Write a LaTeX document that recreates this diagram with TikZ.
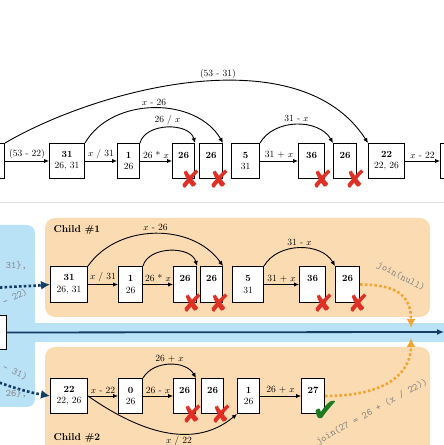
\documentclass[tikz,border=0pt]{standalone}
\usepackage{fontspec}
\newfontfamily\marksfont{DejaVu Sans}
\usetikzlibrary{arrows.meta}

\definecolor{bluebg}{RGB}{186,226,247}
\definecolor{orangebg}{RGB}{251,220,178}
\definecolor{navy}{RGB}{18,60,100}
\definecolor{joinorange}{RGB}{240,166,52}
\definecolor{crossred}{RGB}{222,48,36}
\definecolor{checkgreen}{RGB}{28,122,32}

\tikzset{
    cell/.style={draw, line width=1pt, fill=white, anchor=north west, minimum height=35pt,
        inner xsep=3.5pt, align=center, font=\fontsize{9.5pt}{11.5pt}\selectfont},
    arr/.style={-{Latex[length=5pt,width=4.5pt]}, line width=0.9pt},
    lbl/.style={font=\fontsize{9.5pt}{11pt}\selectfont, inner sep=2pt},
    forkarr/.style={-{Latex[length=9pt,width=9pt]}, navy, line width=2.6pt, dash pattern=on 2.6pt off 2.2pt},
    joinarr/.style={-{Latex[length=9pt,width=9pt]}, joinorange, line width=2.6pt, dash pattern=on 2.6pt off 2.2pt},
    codelbl/.style={font=\ttfamily, text=gray, inner sep=1pt},
    crossmark/.style={text=crossred, font={\marksfont\fontsize{25pt}{25pt}\selectfont}, inner sep=0pt},
    checkmark/.style={text=checkgreen, font={\marksfont\fontsize{32pt}{32pt}\selectfont}, inner sep=0pt},
}

\begin{document}
\begin{tikzpicture}[x=1pt, y=1pt]
    \useasboundingbox (0,0) rectangle (444,445);
    \clip (0,0) rectangle (444,445);

    % backgrounds
    \draw [gray!30, line width=1pt] (0,242) -- (444,242);
    \fill [bluebg] (-10,103) rectangle (454,122);
    \fill [bluebg, rounded corners=8pt] (-20,38) rectangle (35,220);
    \fill [orangebg, rounded corners=10pt] (45,128) rectangle (430,227);
    \fill [orangebg, rounded corners=10pt] (45,-20) rectangle (430,98);

    % parent list
    \node (a0) at (-40,302) [cell, minimum width=44pt] {};
    \node (a1) at (49,302) [cell, minimum width=35pt] {\textbf{31}\\26, 31};
    \node (a2) at (117,302) [cell, minimum width=22pt] {\textbf{1}\\26};
    \node (a3) at (172,302) [cell, minimum width=22pt] {\textbf{26}\\\phantom{0}};
    \node (a4) at (199,302) [cell, minimum width=23pt] {\textbf{26}\\\phantom{0}};
    \node (a5) at (231,302) [cell, minimum width=28pt] {\textbf{5}\\31};
    \node (a6) at (298,302) [cell, minimum width=26pt] {\textbf{36}\\\phantom{0}};
    \node (a7) at (333,302) [cell, minimum width=23pt] {\textbf{26}\\\phantom{0}};
    \node (a8) at (368,302) [cell, minimum width=36pt] {\textbf{22}\\22, 26};
    \node (a9) at (440,302) [cell, minimum width=30pt] {};

    \draw [arr] (a0)--(a1) node[midway, lbl, above]{(53 - 22)};
    \draw [arr] (a1)--(a2) node[midway, lbl, above]{$x$ / 31};
    \draw [arr] (a2)--(a3) node[midway, lbl, above]{26 * $x$};
    \draw [arr] (a5)--(a6) node[midway, lbl, above]{31 + $x$};
    \draw [arr] (a8)--(a9) node[midway, lbl, above]{$x$ - 22};

    \draw [arr] (a0.north east) .. controls +(96,56) and +(-68,106) .. (a8.north west) node[pos=0.55, lbl, above]{(53 - 31)};
    \draw [arr] (a1.north east) to[out=60, in=120] node[midway, lbl, above]{$x$ - 26} (a4.north east);
    \draw [arr] (a2.north east) to[out=75, in=105] node[midway, lbl, above]{26 / $x$} (a3.north east);
    \draw [arr] (a5.north east) to[out=60, in=120] node[midway, lbl, above]{31 - $x$} (a7.north west);

    \node (xa3) at ([xshift=-5pt]a3.south east) [crossmark] {✘};
    \node (xa4) at ([xshift=-4pt]a4.south east) [crossmark] {✘};
    \node (xa6) at ([xshift=-3pt]a6.south east) [crossmark] {✘};
    \node (xa7) at ([xshift=-2pt]a7.south east) [crossmark] {✘};

    % child 1
    \node (child1) at (50,215) [anchor=west, font=\bfseries] {Child \#1};
    \node (b1) at (50,179) [cell, minimum width=37pt, minimum height=36pt] {\textbf{31}\\26, 31};
    \node (b2) at (118,179) [cell, minimum width=24pt, minimum height=36pt] {\textbf{1}\\26};
    \node (b3) at (173,179) [cell, minimum width=23pt, minimum height=36pt] {\textbf{26}\\\phantom{0}};
    \node (b4) at (200,179) [cell, minimum width=22pt, minimum height=36pt] {\textbf{26}\\\phantom{0}};
    \node (b5) at (232,179) [cell, minimum width=31pt, minimum height=36pt] {\textbf{5}\\31};
    \node (b6) at (299,179) [cell, minimum width=26pt, minimum height=36pt] {\textbf{36}\\\phantom{0}};
    \node (b7) at (335,179) [cell, minimum width=24pt, minimum height=36pt] {\textbf{26}\\\phantom{0}};

    \draw [arr] (b1)--(b2) node[midway, lbl, above]{$x$ / 31};
    \draw [arr] (b2)--(b3) node[midway, lbl, above]{26 * $x$};
    \draw [arr] (b5)--(b6) node[midway, lbl, above]{31 + $x$};
    \draw [arr] (b1.north east) to[out=55, in=125] node[midway, lbl, above]{$x$ - 26} (b4.north east);
    \draw [arr] (b2.north east) to[out=75, in=105] (b3.north east);
    \draw [arr] (b5.north east) to[out=60, in=120] node[midway, lbl, above]{31 - $x$} (b7.north west);

    \node (xb3) at ([xshift=-5pt]b3.south east) [crossmark] {✘};
    \node (xb4) at ([xshift=-4pt]b4.south east) [crossmark] {✘};
    \node (xb6) at ([xshift=-3pt]b6.south east) [crossmark] {✘};
    \node (xb7) at ([xshift=-2pt]b7.south east) [crossmark] {✘};

    % child 2
    \node (child2) at (50,7) [anchor=west, font=\bfseries] {Child \#2};
    \node (c1) at (50,67) [cell, minimum width=37pt] {\textbf{22}\\22, 26};
    \node (c2) at (118,67) [cell, minimum width=24pt] {\textbf{0}\\26};
    \node (c3) at (173,67) [cell, minimum width=22pt] {\textbf{26}\\\phantom{0}};
    \node (c4) at (201,67) [cell, minimum width=22pt] {\textbf{26}\\\phantom{0}};
    \node (c5) at (237,67) [cell, minimum width=22pt] {\textbf{1}\\26};
    \node (c6) at (301,67) [cell, minimum width=23pt] {\textbf{27}\\\phantom{0}};

    \draw [arr] (c1)--(c2) node[midway, lbl, above]{$x$ - 22};
    \draw [arr] (c2)--(c3) node[midway, lbl, above]{26 - $x$};
    \draw [arr] (c5)--(c6) node[midway, lbl, above]{26 + $x$};
    \draw [arr] (c2.north east) to[out=60, in=120] node[midway, lbl, above]{26 + $x$} (c3.north east);
    \draw [arr] (c1.east) to[out=-35, in=-140] node[pos=0.6, lbl, below]{$x$ / 22} (c5.south west);

    \node (xc3) at ([xshift=-4pt]c3.south east) [crossmark] {✘};
    \node (xc4) at ([xshift=-3pt]c4.south east) [crossmark] {✘};
    \node (ok) at ([shift={(1pt,3pt)}]c6.south east) [checkmark] {✔};

    % fork
    \coordinate (forkT) at (-5,157);
    \coordinate (forkB) at (-5,64);
    \draw [forkarr] (forkT) to[out=5, in=185] (b1.west);
    \draw [forkarr] (forkB) to[out=-20, in=170] (c1.west);
    \node (forkTa) at (28,179) [codelbl, anchor=east] {fork(\{26, 31\},};
    \node (forkTb) at (28,154) [codelbl, anchor=east, rotate=25] {(53 - 22)};
    \node (forkBa) at (28,67) [codelbl, anchor=east, rotate=-25] {(53 - 31)};
    \node (forkBb) at (28,51) [codelbl, anchor=east] {fork(\{22, 26\},};

    % main thread
    \node (src) at (-30,130) [cell, minimum width=36pt, minimum height=34pt] {};
    \coordinate (mainend) at (444,113);
    \draw [-{Latex[length=7pt,width=6pt]}, navy, line width=1.8pt] (src) -- (mainend);

    % join
    \coordinate (joinT) at (411,117);
    \coordinate (joinB) at (411,107);
    \draw [joinarr] (b7.east) .. controls +(40,0) and +(0,30) .. (joinT);
    \draw [joinarr] (c6.east) .. controls +(66,0) and +(0,-32) .. (joinB);
    \node (jnull) at (401,168) [codelbl, rotate=-28] {join(null)};
    \node (jval) at (372,33) [codelbl, rotate=29] {join(27 = 26 + (x / 22))};

\end{tikzpicture}
\end{document}
